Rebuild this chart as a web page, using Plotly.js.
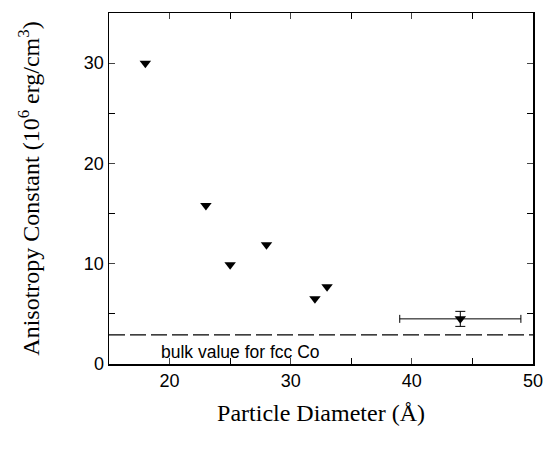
<!DOCTYPE html>
<html><head><meta charset="utf-8">
<script src="https://cdn.plot.ly/plotly-3.0.1.min.js"></script>
<style>body{margin:0;background:#fff}#c{width:547px;height:450px}</style>
</head><body><div id="c"></div>
<script>
const diameter = [18, 23, 25, 28, 32, 33];
const anisotropy = [30, 15.8, 9.9, 11.9, 6.5, 7.7];
const errDiameter = [44];
const errAnisotropy = [4.5];
const errX = [5];
const errY = [0.75];
const bulkValue = 2.9;
const bulkLabel = "bulk value for fcc Co";
const xTicks = [20, 30, 40, 50];
const yTicks = [0, 10, 20, 30];

const marker = {symbol: 'triangle-down', size: 10, color: '#000'};
const traces = [
  {x: diameter, y: anisotropy, mode: 'markers', type: 'scatter', marker: marker, showlegend: false},
  {x: errDiameter, y: errAnisotropy, mode: 'markers', type: 'scatter', marker: marker, showlegend: false,
   error_x: {type: 'data', array: errX, visible: true, color: '#000', thickness: 1, width: 4},
   error_y: {type: 'data', array: errY, visible: true, color: '#000', thickness: 1, width: 5}}
];
const layout = {
  width: 547, height: 450,
  margin: {l: 109, r: 14, t: 13, b: 86},
  paper_bgcolor: '#fff', plot_bgcolor: '#fff',
  font: {family: 'Liberation Sans, Arial, sans-serif', color: '#000'},
  xaxis: {
    range: [15, 50], tickvals: xTicks, ticks: 'inside', ticklen: 6, tickwidth: 1,
    minor: {dtick: 5, ticks: 'inside', ticklen: 6, tickwidth: 1, tickcolor: '#000'},
    showline: true, linecolor: '#000', linewidth: 1.5, mirror: 'allticks', showgrid: false, zeroline: false,
    tickfont: {size: 18, family: 'Liberation Sans, Arial, sans-serif'},
    title: {text: 'Particle Diameter (Å)', font: {size: 24, family: 'Liberation Serif, Times New Roman, serif'}, standoff: 14}
  },
  yaxis: {
    range: [0, 35], tickvals: yTicks, ticks: 'inside', ticklen: 6, tickwidth: 1,
    minor: {dtick: 5, ticks: 'inside', ticklen: 6, tickwidth: 1, tickcolor: '#000'},
    showline: true, linecolor: '#000', linewidth: 1.5, mirror: 'allticks', showgrid: false, zeroline: false,
    tickfont: {size: 18, family: 'Liberation Sans, Arial, sans-serif'},
    title: {text: 'Anisotropy Constant (10<sup>6</sup> erg/cm<sup>3</sup>)', font: {size: 24, family: 'Liberation Serif, Times New Roman, serif'}, standoff: 37}
  },
  shapes: [{type: 'line', xref: 'paper', x0: 0, x1: 1, yref: 'y', y0: bulkValue, y1: bulkValue,
    line: {color: '#000', width: 1.2, dash: '16px,5px'}}],
  annotations: [{xref: 'x', yref: 'y', x: 19.1, y: 1.2, xanchor: 'left', yanchor: 'middle',
    text: bulkLabel, showarrow: false, font: {size: 17.5, family: 'Liberation Sans, Arial, sans-serif'}}]
};
Plotly.newPlot('c', traces, layout, {displayModeBar: false, staticPlot: true});
</script></body></html>
